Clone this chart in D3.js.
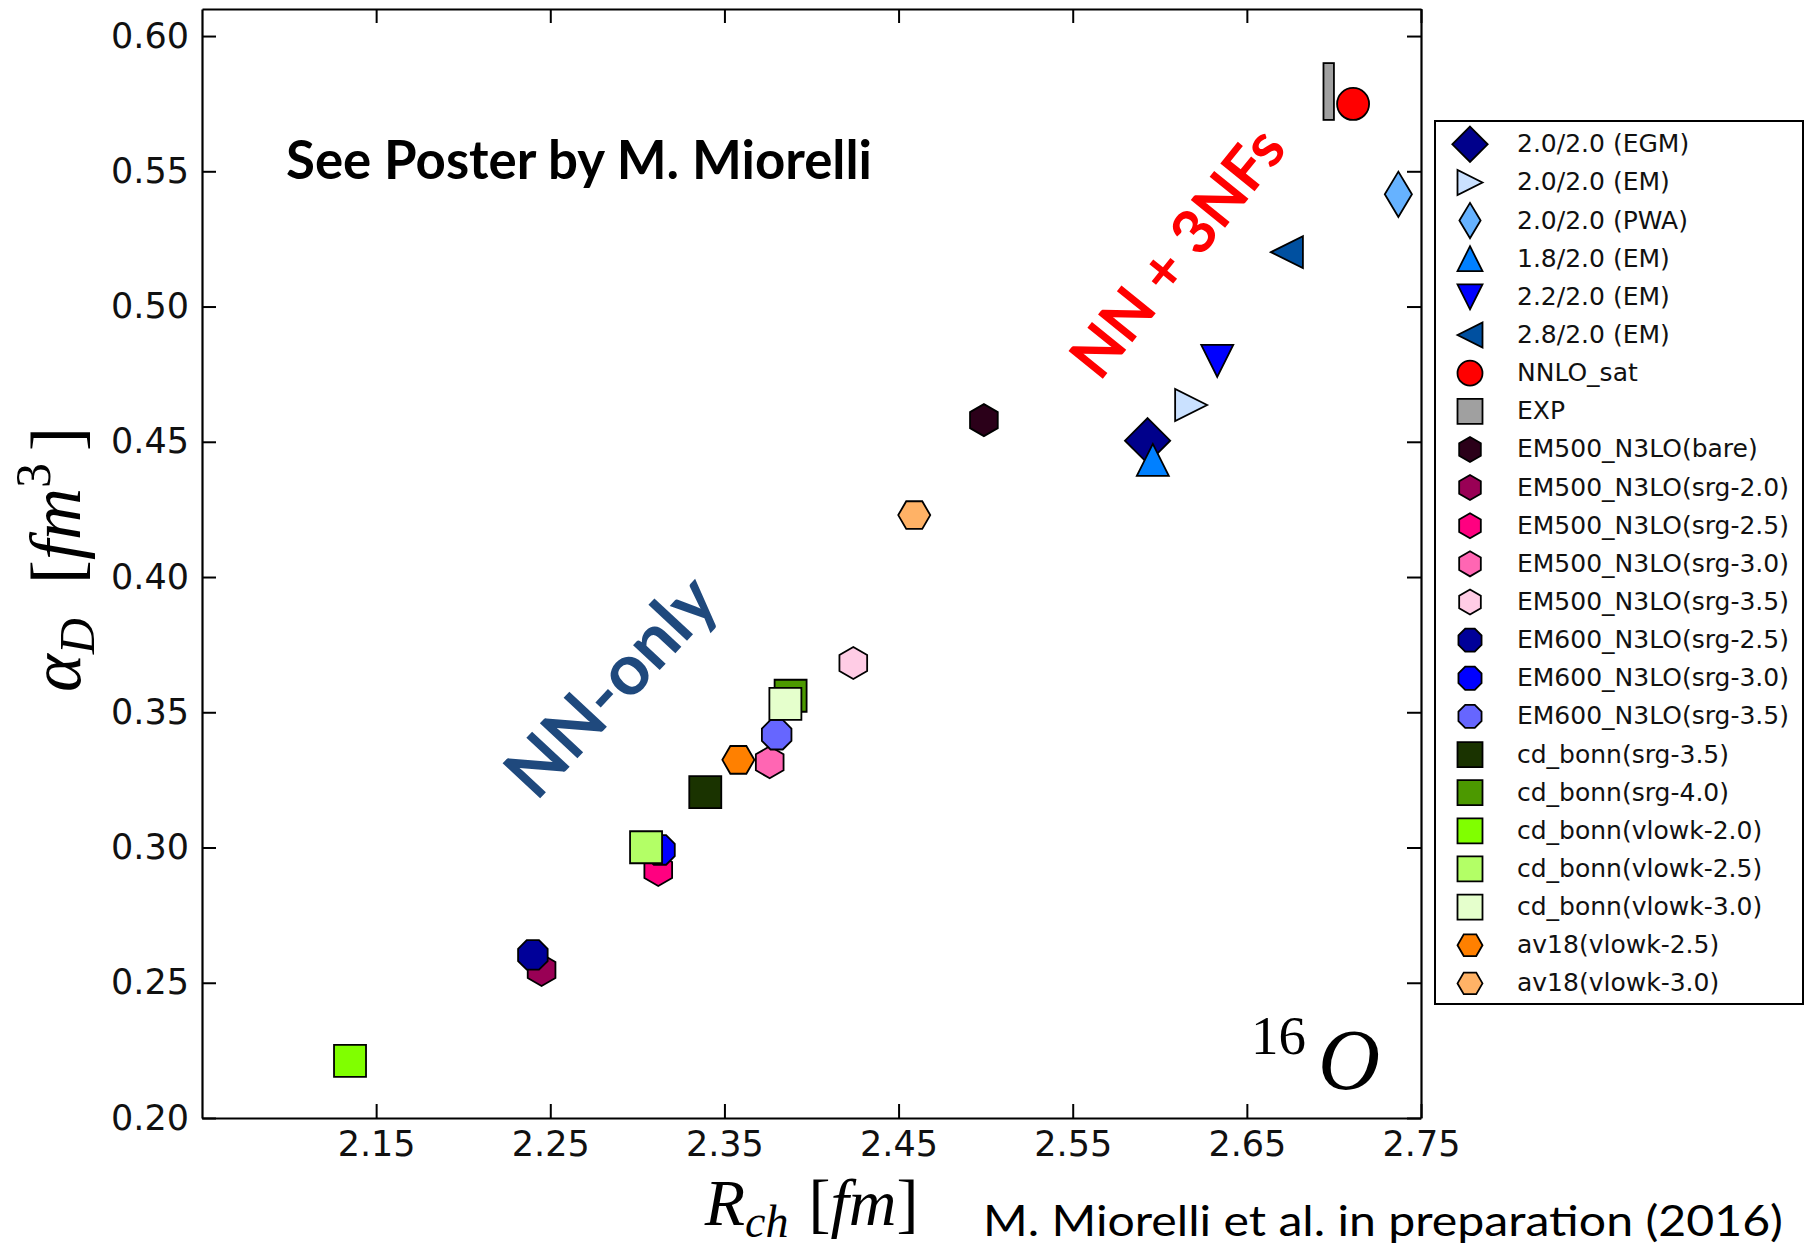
<!DOCTYPE html>
<html>
<head>
<meta charset="utf-8">
<script src="https://cdn.jsdelivr.net/npm/d3@7"></script>
<style>
  html, body { margin: 0; padding: 0; background: #fff; }
  svg { display: block; }
</style>
</head>
<body>
<div id="chart"></div>
<script>
// legend order = drawing order
const labels = [
  '2.0/2.0 (EGM)', '2.0/2.0 (EM)', '2.0/2.0 (PWA)', '1.8/2.0 (EM)', '2.2/2.0 (EM)', '2.8/2.0 (EM)',
  'NNLO_sat', 'EXP',
  'EM500_N3LO(bare)', 'EM500_N3LO(srg-2.0)', 'EM500_N3LO(srg-2.5)', 'EM500_N3LO(srg-3.0)', 'EM500_N3LO(srg-3.5)',
  'EM600_N3LO(srg-2.5)', 'EM600_N3LO(srg-3.0)', 'EM600_N3LO(srg-3.5)',
  'cd_bonn(srg-3.5)', 'cd_bonn(srg-4.0)', 'cd_bonn(vlowk-2.0)', 'cd_bonn(vlowk-2.5)', 'cd_bonn(vlowk-3.0)',
  'av18(vlowk-2.5)', 'av18(vlowk-3.0)',
];

// charge radius R_ch [fm]  (EXP drawn as a box below)
const radius = [
  2.593, 2.618, 2.737, 2.596, 2.633, 2.673,
  2.711, null,
  2.499, 2.245, 2.312, 2.376, 2.424,
  2.240, 2.313, 2.380,
  2.339, 2.388, 2.135, 2.305, 2.385,
  2.358, 2.459,
];

// dipole polarizability alpha_D [fm^3]
const alphaD = [
  0.4504, 0.4636, 0.5415, 0.4433, 0.4799, 0.5201,
  0.5749, null,
  0.458, 0.2547, 0.2917, 0.3315, 0.3682,
  0.2603, 0.2991, 0.3417,
  0.3205, 0.3561, 0.2211, 0.3001, 0.3531,
  0.3324, 0.4229,
];

// experimental box
const expRadius = [2.694, 2.700];
const expAlpha = [0.569, 0.590];

const markers = ['D', '>', 'd', '^', 'v', '<', 'o', 's', 'h', 'h', 'h', 'h', 'h', '8', '8', '8', 's', 's', 's', 's', 's', 'H', 'H'];
const colors = [
  '#00008b', '#cae1ff', '#66b2ff', '#0080ff', '#0000ff', '#0050a0',
  '#ff0000', '#a0a0a0',
  '#2b0019', '#990055', '#ff0080', '#ff66b3', '#ffcce5',
  '#000099', '#0000ff', '#6666ff',
  '#1a3300', '#4c9900', '#80ff00', '#b3ff66', '#e5ffcc',
  '#ff8000', '#ffb266',
];

const xTicks = [2.15, 2.25, 2.35, 2.45, 2.55, 2.65, 2.75];
const yTicks = [0.20, 0.25, 0.30, 0.35, 0.40, 0.45, 0.50, 0.55, 0.60];

const W = 1814;
const H = 1252;
const plot = { left: 202, top: 9, right: 1421, bottom: 1118 };

const svg = d3.select('#chart')
  .append('svg')
  .attr('width', W)
  .attr('height', H);

const x = d3.scaleLinear().domain([2.05, 2.75]).range([plot.left, plot.right]);
const y = d3.scaleLinear().domain([0.20, 0.61]).range([plot.bottom, plot.top]);

// matplotlib-like marker shapes, size = markersize in px
const poly = (fn) => ({
  draw(ctx, s) {
    const pts = fn(s);
    ctx.moveTo(pts[0][0], pts[0][1]);
    pts.slice(1).forEach((p) => ctx.lineTo(p[0], p[1]));
    ctx.closePath();
  },
});
const regular = (n, rot) => poly((s) => d3.range(n).map((k) => {
  const a = (rot + k * 360 / n) * Math.PI / 180;
  return [s / 2 * Math.cos(a), s / 2 * Math.sin(a)];
}));
const shapes = {
  D: poly((s) => { const h = s * Math.SQRT2 / 2; return [[0, -h], [h, 0], [0, h], [-h, 0]]; }),
  d: poly((s) => { const h = s * Math.SQRT2 / 2; return [[0, -h], [0.6 * h, 0], [0, h], [-0.6 * h, 0]]; }),
  '>': poly((s) => [[s / 2, 0], [-s / 2, -s / 2], [-s / 2, s / 2]]),
  '<': poly((s) => [[-s / 2, 0], [s / 2, -s / 2], [s / 2, s / 2]]),
  '^': poly((s) => [[0, -s / 2], [s / 2, s / 2], [-s / 2, s / 2]]),
  v: poly((s) => [[0, s / 2], [s / 2, -s / 2], [-s / 2, -s / 2]]),
  s: poly((s) => [[-s / 2, -s / 2], [s / 2, -s / 2], [s / 2, s / 2], [-s / 2, s / 2]]),
  o: { draw(ctx, s) { ctx.moveTo(s / 2, 0); ctx.arc(0, 0, s / 2, 0, 2 * Math.PI); } },
  h: regular(6, -90),
  H: regular(6, 0),
  8: regular(8, 22.5),
};

// axes (ticks inside, all four sides)
const tickFont = (g) => g.selectAll('text')
  .attr('font-family', 'DejaVu Sans')
  .attr('font-size', 35)
  .attr('fill', '#111');
const tickLines = (g) => {
  g.selectAll('line').attr('stroke', '#000').attr('stroke-width', 2);
  g.select('.domain').attr('stroke', '#000').attr('stroke-width', 2.2);
};

svg.append('g')
  .attr('transform', `translate(0,${plot.bottom})`)
  .call(d3.axisBottom(x).tickValues(xTicks).tickFormat(d3.format('.2f'))
    .tickSize(-14).tickSizeOuter(0).tickPadding(13))
  .call(tickFont)
  .call(tickLines);

svg.append('g')
  .attr('transform', `translate(0,${plot.top})`)
  .call(d3.axisTop(x).tickValues(xTicks).tickFormat('').tickSize(-14).tickSizeOuter(0))
  .call(tickLines);

svg.append('g')
  .attr('transform', `translate(${plot.left},0)`)
  .call(d3.axisLeft(y).tickValues(yTicks).tickFormat(d3.format('.2f'))
    .tickSize(-14).tickSizeOuter(0).tickPadding(13))
  .call(tickFont)
  .call(tickLines);

svg.append('g')
  .attr('transform', `translate(${plot.right},0)`)
  .call(d3.axisRight(y).tickValues(yTicks).tickFormat('').tickSize(-14).tickSizeOuter(0))
  .call(tickLines);

// experimental box
svg.append('rect')
  .attr('x', x(expRadius[0]))
  .attr('y', y(expAlpha[1]))
  .attr('width', x(expRadius[1]) - x(expRadius[0]))
  .attr('height', y(expAlpha[0]) - y(expAlpha[1]))
  .attr('fill', colors[7])
  .attr('stroke', '#000')
  .attr('stroke-width', 1.8);

// points
const points = labels.map((l, i) => ({ l, r: radius[i], a: alphaD[i], m: markers[i], c: colors[i] }))
  .filter((d) => d.r !== null);

svg.append('g')
  .selectAll('path')
  .data(points)
  .join('path')
  .attr('transform', (d) => `translate(${x(d.r)},${y(d.a)})`)
  .attr('d', (d) => d3.symbol().type(shapes[d.m]).size(32)())
  .attr('fill', (d) => d.c)
  .attr('stroke', '#000')
  .attr('stroke-width', 1.8)
  .attr('stroke-linejoin', 'miter');

// annotations
svg.append('text')
  .attr('x', 286)
  .attr('y', 179)
  .attr('font-family', 'Lato')
  .attr('font-weight', 'bold')
  .attr('font-size', 54)
  .attr('textLength', 586)
  .attr('lengthAdjust', 'spacingAndGlyphs')
  .attr('fill', '#000')
  .text('See Poster by M. Miorelli');

svg.append('text')
  .attr('transform', 'translate(1194,266) rotate(-51)')
  .attr('text-anchor', 'middle')
  .attr('font-family', 'Lato')
  .attr('font-weight', 'bold')
  .attr('font-size', 61)
  .attr('fill', '#ff0000')
  .text('NN + 3NFs');

svg.append('text')
  .attr('transform', 'translate(629,703) rotate(-47)')
  .attr('text-anchor', 'middle')
  .attr('font-family', 'Lato')
  .attr('font-weight', 'bold')
  .attr('font-size', 71)
  .attr('fill', '#1f497d')
  .text('NN-only');

svg.append('text')
  .attr('x', 1251)
  .attr('y', 1054)
  .attr('font-family', 'Liberation Serif')
  .attr('font-size', 55)
  .attr('fill', '#000')
  .text('16');

svg.append('text')
  .attr('x', 1318)
  .attr('y', 1089)
  .attr('font-family', 'Liberation Serif')
  .attr('font-style', 'italic')
  .attr('font-size', 86)
  .attr('fill', '#000')
  .text('O');

// axis labels
const yl = svg.append('text')
  .attr('transform', `translate(80,${(plot.top + plot.bottom) / 2 - 4}) rotate(-90)`)
  .attr('text-anchor', 'middle')
  .attr('font-family', 'Liberation Serif')
  .attr('font-size', 72)
  .attr('fill', '#000');
yl.append('tspan').attr('font-style', 'italic').text('α');
yl.append('tspan').attr('font-style', 'italic').attr('font-size', 50).attr('dy', 14).text('D');
yl.append('tspan').attr('dy', -14).attr('dx', 34).text('[');
yl.append('tspan').attr('font-style', 'italic').text('fm');
yl.append('tspan').attr('font-size', 50).attr('dy', -30).text('3');
yl.append('tspan').attr('dy', 30).attr('dx', 12).text(']');

const xl = svg.append('text')
  .attr('transform', `translate(${(plot.left + plot.right) / 2},1225)`)
  .attr('text-anchor', 'middle')
  .attr('font-family', 'Liberation Serif')
  .attr('font-size', 66)
  .attr('fill', '#000');
xl.append('tspan').attr('font-style', 'italic').text('R');
xl.append('tspan').attr('font-style', 'italic').attr('font-size', 46).attr('dy', 12).text('ch');
xl.append('tspan').attr('dy', -12).attr('dx', 20).text('[');
xl.append('tspan').attr('font-style', 'italic').text('fm');
xl.append('tspan').text(']');

// footer
svg.append('text')
  .attr('x', 983)
  .attr('y', 1236)
  .attr('font-family', 'Lato')
  .attr('font-size', 42)
  .attr('textLength', 800)
  .attr('lengthAdjust', 'spacingAndGlyphs')
  .attr('fill', '#000')
  .text('M. Miorelli et al. in preparation (2016)');

// legend
const legend = svg.append('g');
legend.append('rect')
  .attr('x', 1435)
  .attr('y', 121)
  .attr('width', 368)
  .attr('height', 883)
  .attr('fill', '#fff')
  .attr('stroke', '#000')
  .attr('stroke-width', 2);

const rows = legend.selectAll('g.row')
  .data(labels.map((l, i) => ({ l, m: markers[i], c: colors[i] })))
  .join('g')
  .attr('class', 'row')
  .attr('transform', (d, i) => `translate(1470,${144.3 + i * 38.14})`);

rows.append('path')
  .attr('d', (d) => d3.symbol().type(shapes[d.m]).size(25)())
  .attr('fill', (d) => d.c)
  .attr('stroke', '#000')
  .attr('stroke-width', 1.8);

rows.append('text')
  .attr('x', 47)
  .attr('y', 8)
  .attr('font-family', 'DejaVu Sans')
  .attr('font-size', 25)
  .attr('fill', '#111')
  .text((d) => d.l);
</script>
</body>
</html>
